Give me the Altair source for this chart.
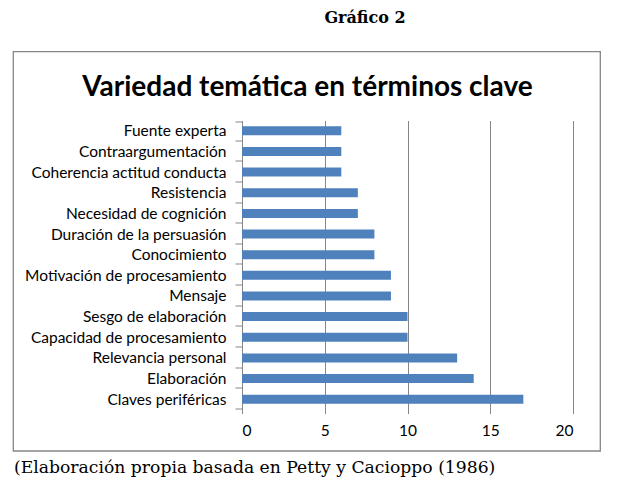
import altair as alt
import pandas as pd

categories = [
    "Fuente experta",
    "Contraargumentación",
    "Coherencia actitud conducta",
    "Resistencia",
    "Necesidad de cognición",
    "Duración de la persuasión",
    "Conocimiento",
    "Motivación de procesamiento",
    "Mensaje",
    "Sesgo de elaboración",
    "Capacidad de procesamiento",
    "Relevancia personal",
    "Elaboración",
    "Claves periféricas",
]
values = [6, 6, 6, 7, 7, 8, 8, 9, 9, 10, 10, 13, 14, 17]
x_ticks = [0, 5, 10, 15, 20]

df = pd.DataFrame({"tema": categories, "n": values})
one = pd.DataFrame({"k": [0]})

W, H = 331, 289
OX, OY = 242, 120.5
GRID = "#868686"
LABEL_FONT = "Lato"

bars = alt.Chart(df).mark_bar(color="#4F81BD", size=9).encode(
    y=alt.Y(
        "tema:N",
        sort=categories,
        title=None,
        axis=alt.Axis(
            tickBand="extent",
            tickSize=7,
            tickColor=GRID,
            domainColor=GRID,
            labelPadding=9,
            labelFont=LABEL_FONT,
            labelFontSize=15.5,
            labelColor="#000000",
            grid=False,
            labelLimit=300,
        ),
    ),
    x=alt.X(
        "n:Q",
        scale=alt.Scale(domain=[0, 20], nice=False),
        title=None,
        axis=alt.Axis(
            values=x_ticks,
            grid=True,
            gridColor=GRID,
            domain=False,
            tickSize=4,
            tickColor=GRID,
            labelPadding=10,
            labelFont=LABEL_FONT,
            labelFontSize=15.5,
            labelColor="#000000",
        ),
    ),
)

ann = alt.Chart(one)

frame = ann.mark_rect(fill=None, stroke=GRID, strokeWidth=1.3, clip=False).encode(
    x=alt.value(13.3 - OX),
    x2=alt.value(600.3 - OX),
    y=alt.value(51.7 - OY),
    y2=alt.value(451 - OY),
)

title = ann.mark_text(
    text="Variedad temática en términos clave",
    font=LABEL_FONT,
    fontSize=28,
    fontWeight="bold",
    align="center",
    baseline="alphabetic",
    color="#000000",
).encode(x=alt.value(307.5 - OX), y=alt.value(96 - OY))

heading = ann.mark_text(
    text="Gráfico 2",
    font="DejaVu Serif",
    fontSize=16,
    fontWeight="bold",
    align="center",
    baseline="alphabetic",
    color="#000000",
).encode(x=alt.value(365 - OX), y=alt.value(23 - OY))

caption = ann.mark_text(
    text="(Elaboración propia basada en Petty y Cacioppo (1986)",
    font="DejaVu Serif",
    fontSize=17.2,
    align="left",
    baseline="alphabetic",
    color="#000000",
).encode(x=alt.value(14 - OX), y=alt.value(473 - OY))

chart = (
    alt.layer(frame, bars, title, heading, caption)
    .properties(
        width=W,
        height=H,
        autosize=alt.AutoSizeParams(type="none"),
        padding={"left": OX, "top": OY, "right": 631 - OX - W, "bottom": 490 - OY - H},
        background="white",
    )
    .configure_view(stroke=None)
)

chart.save("out.html", embed_options={"renderer": "svg", "actions": False})
